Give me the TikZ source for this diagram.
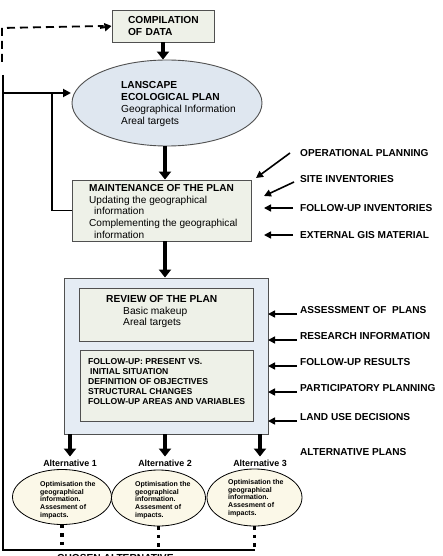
\documentclass[tikz,border=0pt]{standalone}
\usepackage{fontspec}
\setmainfont{Liberation Sans}
\usetikzlibrary{shapes.geometric,arrows.meta}
\definecolor{boxgreen}{HTML}{EEF1E8}
\definecolor{ellblue}{HTML}{DFE7F0}
\definecolor{bigblue}{HTML}{E5ECF4}
\definecolor{cream}{HTML}{FBF8E8}
\definecolor{edge}{HTML}{505050}
\tikzset{
  box/.style={draw=edge, line width=0.9pt, fill=boxgreen, rectangle, inner sep=0pt},
  bigbox/.style={draw=edge, line width=0.9pt, fill=bigblue, rectangle, inner sep=0pt},
  lepell/.style={draw=edge, line width=0.9pt, fill=ellblue, ellipse, inner sep=0pt},
  altell/.style={draw=black, line width=0.8pt, fill=cream, ellipse, inner sep=0pt},
  txt/.style={align=left, inner sep=0pt, font=\fontsize{10.2}{11.8}\selectfont},
  lbl/.style={anchor=west, inner sep=0pt, font=\bfseries\fontsize{10.1}{11}\selectfont},
  bigarr/.style={line width=4.5pt, -{Triangle[length=8pt,width=12pt]}},
  inarr/.style={line width=1.6pt, -{Triangle[length=7pt,width=7pt]}},
  fbline/.style={line width=1.8pt},
  dotline/.style={line width=3.5pt, dash pattern=on 3.5pt off 5pt},
  alttxt/.style={align=left, inner sep=0pt, font=\bfseries\fontsize{7}{7.8}\selectfont},
  altlbl/.style={inner sep=0pt, font=\bfseries\fontsize{8.9}{10}\selectfont}
}
\begin{document}
\begin{tikzpicture}[x=1pt,y=-1pt]
\useasboundingbox (0,0) rectangle (442,556);

% compilation of data
\node[box, minimum width=102pt, minimum height=32pt, text width=70pt, inner xsep=16pt, align=left,
      font=\bfseries\fontsize{10.2}{11.8}\selectfont] (comp) at (163,26) {COMPILATION\\OF DATA};

% landscape ecological plan
\node[lepell, minimum width=190pt, minimum height=86pt] (lep) at (167,103) {};
\node[txt, anchor=west] (leptxt) at (121,104) {\textbf{LANSCAPE}\\\textbf{ECOLOGICAL PLAN}\\Geographical Information\\Areal targets};

% maintenance
\node[box, minimum width=179pt, minimum height=61pt] (maint) at (161.5,210.5) {};
\node[txt, anchor=north west, font=\fontsize{10.1}{11.8}\selectfont] (mainttxt) at (89,184) {\textbf{MAINTENANCE OF THE PLAN}\\Updating the geographical\\\hspace*{5pt}information\\Complementing the geographical\\\hspace*{5pt}information};

% big review box
\node[bigbox, minimum width=204pt, minimum height=156pt] (big) at (166,356) {};
\node[box, minimum width=174pt, minimum height=53pt] (rev) at (166,314.5) {};
\node[txt, anchor=north west, font=\fontsize{10.2}{11.8}\selectfont] (revtxt) at (106,295) {\textbf{REVIEW OF THE PLAN}\\\hspace*{17pt}Basic makeup\\\hspace*{17pt}Areal targets};
\node[box, minimum width=173pt, minimum height=71pt] (fu) at (166.5,385.5) {};
\node[txt, anchor=north west, font=\bfseries\fontsize{8.6}{10}\selectfont] (futxt) at (88,358) {FOLLOW-UP: PRESENT VS.\\\hspace*{2pt}INITIAL SITUATION\\DEFINITION OF OBJECTIVES\\STRUCTURAL CHANGES\\FOLLOW-UP AREAS AND VARIABLES};

% alternatives
\node[altlbl] (a1l) at (70,463) {Alternative 1};
\node[altlbl] (a2l) at (165,463) {Alternative 2};
\node[altlbl] (a3l) at (260,463) {Alternative 3};
\node[altell, minimum width=99pt, minimum height=55pt] (a1) at (62,497) {};
\node[altell, minimum width=94pt, minimum height=56pt] (a2) at (158.5,498) {};
\node[altell, minimum width=95pt, minimum height=57pt] (a3) at (254.5,497.5) {};
\node[alttxt, anchor=north west] (a1t) at (40,481) {Optimisation the\\geographical\\information.\\Assesment of\\impacts.};
\node[alttxt, anchor=north west] (a2t) at (135,481) {Optimisation the\\geographical\\information.\\Assesment of\\impacts.};
\node[alttxt, anchor=north west] (a3t) at (228,479) {Optimisation the\\geographical\\information.\\Assesment of\\impacts.};

% right labels
\node[lbl] (op) at (300,153) {OPERATIONAL PLANNING};
\node[lbl] (si) at (300,179) {SITE INVENTORIES};
\node[lbl] (fi) at (300,208) {FOLLOW-UP INVENTORIES};
\node[lbl] (eg) at (300,235) {EXTERNAL GIS MATERIAL};
\node[lbl] (ap) at (300,310) {ASSESSMENT OF \ PLANS};
\node[lbl] (ri) at (300,336) {RESEARCH INFORMATION};
\node[lbl] (fr) at (300,362) {FOLLOW-UP RESULTS};
\node[lbl] (pp) at (300,388) {PARTICIPATORY PLANNING};
\node[lbl] (lu) at (300,417) {LAND USE DECISIONS};
\node[lbl] (alp) at (300,452) {ALTERNATIVE PLANS};
\node[anchor=base west, inner sep=0pt, font=\bfseries\fontsize{10.2}{11}\selectfont] (chosen) at (57,561) {CHOSEN ALTERNATIVE};

% main flow arrows
\draw[bigarr] (comp.south) -- (comp.south |- lep.north);
\draw[bigarr] (165,146) -- (maint.north -| 165,0);
\draw[bigarr] (maint.south -| 165,0) -- (big.north -| 165,0);
\draw[bigarr] (big.south -| a1l) -- ([yshift=3pt]a1l.north);
\draw[bigarr] (big.south -| a2l) -- ([yshift=3pt]a2l.north);
\draw[bigarr] (big.south -| a3l) -- ([yshift=3pt]a3l.north);

% incoming arrows
\coordinate (opE) at (256,178);
\coordinate (siE) at (264,196);
\draw[inarr] (290,153) -- (opE);
\draw[inarr] (294,182) -- (siE);
\foreach \n in {fi,eg} \draw[inarr] ([xshift=-7pt]\n.west) -- ([xshift=-36pt]\n.west);
\foreach \n in {ap,ri,fr,pp,lu} \draw[inarr] ([xshift=-3pt,yshift=-4pt]\n.west) -- ([xshift=-32pt,yshift=-4pt]\n.west);

% feedback lines
\coordinate (d0) at (2,28);
\draw[line width=1.8pt, dash pattern=on 8pt off 5pt] (2,62) -- (d0) -- ([xshift=-8pt]comp.west);
\draw[line width=1.8pt, -{Triangle[length=7pt,width=8pt]}] (d0 -| 100,0) -- (comp.west);
\coordinate (f0) at (3,75);
\coordinate (f1) at (3,550);
\coordinate (lepin) at (71,93);
\draw[fbline] (f0) -- (f1) -- (f1 -| a3.south);
\draw[fbline, -{Triangle[length=8pt,width=8pt]}] (f0 |- lepin) -- (lepin);
\draw[line width=1.2pt] (52,93) |- (maint.west);

% dotted lines from alternatives
\draw[dotline] (a1.south) -- (a1.south |- f1);
\draw[dotline] (a2.south) -- (a2.south |- f1);
\draw[dotline] (a3.south) -- (a3.south |- f1);
\end{tikzpicture}
\end{document}
